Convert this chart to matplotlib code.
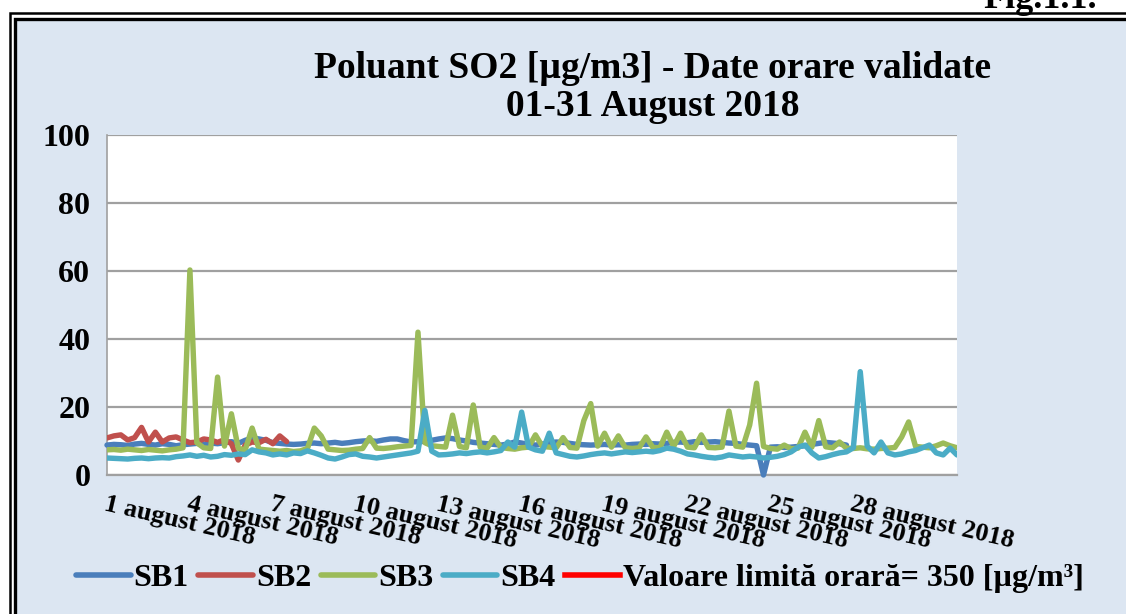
import numpy as np
import matplotlib
matplotlib.use("Agg")
import matplotlib.pyplot as plt
from matplotlib.patches import Rectangle

# ---------------- data (6-hour resolution, 1-31 August 2018) ----------------
step_days = 0.25

sb1 = [8.8, 9.0, 8.9, 8.7, 9.1, 9.3, 9.0, 8.8, 9.2, 9.0, 8.6, 8.9, 9.1, 9.3, 9.0, 9.4,
       9.2, 9.5, 9.8, 9.3, 10.2, 10.9, 10.6, 10.2, 9.5, 9.3, 9.1, 9.0, 9.1, 9.3, 9.4, 9.2,
       9.4, 9.6, 9.3, 9.5, 9.8, 10.0, 10.1, 9.9, 10.3, 10.6, 10.6, 10.1, 9.7, 9.8, 9.9, 10.2,
       10.6, 10.9, 10.7, 10.3, 10.0, 9.6, 9.4, 9.2, 9.0, 8.8, 9.1, 9.7, 9.4, 9.0, 8.8, 9.1,
       9.5, 9.7, 9.6, 9.3, 9.0, 8.9, 8.8, 8.9, 9.0, 8.8, 8.9, 8.8, 9.0, 9.1, 9.0, 9.2,
       9.1, 9.3, 9.6, 9.7, 9.5, 9.8, 9.6, 9.7, 9.8, 9.6, 9.4, 9.3, 9.0, 8.8, 8.6, 0.0,
       8.2, 8.3, 8.1, 8.2, 8.4, 8.6, 9.0, 9.3, 9.6, 9.4, 9.2, 8.8]

sb2 = [10.9, 11.5, 11.8, 10.3, 11.0, 14.0, 9.7, 12.6, 9.7, 10.9, 11.2, 10.3, 9.5, 9.7,
       10.6, 10.3, 9.6, 10.4, 9.2, 4.4, 8.8, 9.7, 9.5, 10.5, 9.2, 11.5, 9.8]

sb3 = [7.4, 7.5, 7.3, 7.6, 7.4, 7.2, 7.5, 7.3, 7.1, 7.4, 7.6, 8.0, 60.3, 9.5, 8.0, 7.8,
       28.8, 8.5, 18.0, 7.8, 7.4, 13.8, 7.6, 7.4, 7.2, 7.0, 7.2, 6.9, 7.1, 7.8, 13.8, 11.5,
       7.6, 7.4, 7.2, 7.3, 7.6, 7.8, 11.0, 7.9, 7.8, 8.0, 8.3, 8.5, 8.7, 42.0, 9.5, 8.6,
       8.4, 8.2, 17.6, 8.4, 8.0, 20.6, 8.2, 7.9, 11.0, 8.1, 7.8, 7.6, 8.0, 8.2, 11.8, 8.4,
       8.2, 8.0, 11.0, 8.1, 7.9, 16.0, 21.0, 8.5, 12.3, 8.2, 11.5, 8.0, 7.8, 8.0, 11.2, 8.1,
       8.0, 12.6, 8.4, 12.3, 8.2, 8.0, 11.8, 8.1, 8.0, 8.2, 18.8, 8.5, 8.2, 14.7, 27.0, 8.4,
       7.8, 7.6, 8.8, 7.7, 7.9, 12.6, 8.2, 16.0, 8.3, 8.0, 9.7, 7.9, 7.8, 8.0, 7.7, 7.6,
       7.8, 7.9, 8.1, 11.2, 15.6, 8.4, 8.2, 8.0, 8.6, 9.4, 8.6, 8.0]

sb4 = [5.0, 4.9, 4.8, 4.7, 4.9, 5.0, 4.8, 5.0, 5.1, 5.0, 5.4, 5.6, 5.9, 5.5, 5.8, 5.3,
       5.5, 6.0, 5.8, 6.2, 6.0, 7.4, 6.8, 6.5, 5.9, 6.2, 5.9, 6.5, 6.3, 7.1, 6.5, 5.8,
       5.0, 4.7, 5.3, 6.0, 6.2, 5.5, 5.3, 5.0, 5.3, 5.6, 5.9, 6.2, 6.5, 7.0, 19.0, 7.0,
       5.9, 6.0, 6.2, 6.5, 6.3, 6.6, 6.8, 6.5, 6.8, 7.2, 9.7, 8.2, 18.5, 8.2, 7.4, 7.0,
       12.3, 6.5, 6.0, 5.5, 5.3, 5.6, 6.0, 6.3, 6.5, 6.2, 6.5, 6.8, 6.6, 6.8, 7.0, 6.8,
       7.2, 7.9, 7.6, 7.0, 6.2, 5.9, 5.5, 5.2, 5.0, 5.3, 5.9, 5.6, 5.3, 5.5, 5.3, 5.0,
       5.2, 5.5, 6.0, 6.8, 8.2, 8.8, 6.5, 5.0, 5.4, 6.0, 6.5, 6.8, 8.0, 30.4, 8.5, 6.5,
       9.7, 6.5, 5.9, 6.2, 6.8, 7.2, 8.0, 8.8, 6.5, 5.9, 7.9, 5.9]

limit_value = 350

series_names = ["SB1", "SB2", "SB3", "SB4", "Valoare limită orară= 350 [µg/m³]"]
series_colors = ["#4A7EBB", "#C0504D", "#9BBB59", "#4BACC6", "#FF0000"]

tick_days = [0, 3, 6, 9, 12, 15, 18, 21, 24, 27]
tick_labels = ["1 august 2018", "4 august 2018", "7 august 2018", "10 august 2018",
               "13 august 2018", "16 august 2018", "19 august 2018", "22 august 2018",
               "25 august 2018", "28 august 2018"]
y_ticks = [0, 20, 40, 60, 80, 100]

title_line1 = "Poluant SO2 [µg/m3] - Date orare validate"
title_line2 = "01-31 August 2018"
fig_label = "Fig.1.1."

# ---------------- figure ----------------
W, H = 1126, 614
fig = plt.figure(figsize=(W / 100, H / 100), dpi=100, facecolor="white")
serif = ["Liberation Serif", "DejaVu Serif"]

# double frame (behind everything)
fig.patches.append(Rectangle((15 / W, -0.1), 1.2, 1 - 19 / H + 0.1, transform=fig.transFigure,
                             facecolor="#DCE6F2", edgecolor="black", linewidth=2.4, zorder=-2))
fig.patches.append(Rectangle((9.5 / W, -0.1), 1.2, 1 - 13 / H + 0.1, transform=fig.transFigure,
                             facecolor="none", edgecolor="black", linewidth=1.8, zorder=-2))

fig.text(1097 / W, 1 - 8 / H, fig_label, ha="right", va="baseline", fontsize=26,
         fontweight="bold", family=serif)

fig.text(653 / W, 1 - 68 / H, title_line1, ha="center", va="center", fontsize=27,
         fontweight="bold", family=serif)
fig.text(653 / W, 1 - 107 / H, title_line2, ha="center", va="center", fontsize=27,
         fontweight="bold", family=serif)

ax = fig.add_axes([107 / W, 1 - 475 / H, (957 - 107) / W, (475 - 135) / H])
ax.set_facecolor("white")

def times(n):
    return np.arange(n) * step_days

lw = 3.9
ax.plot(times(len(sb1)), sb1, color=series_colors[0], lw=lw, solid_joinstyle="round",
        solid_capstyle="round", label=series_names[0], zorder=3, clip_on=False)
ax.plot(times(len(sb2)), sb2, color=series_colors[1], lw=lw, solid_joinstyle="round",
        solid_capstyle="round", label=series_names[1], zorder=4)
ax.plot(times(len(sb3)), sb3, color=series_colors[2], lw=lw, solid_joinstyle="round",
        solid_capstyle="round", label=series_names[2], zorder=5)
ax.plot(times(len(sb4)), sb4, color=series_colors[3], lw=lw, solid_joinstyle="round",
        solid_capstyle="round", label=series_names[3], zorder=6)
tt = times(len(sb3))
ax.plot(tt, [limit_value] * len(tt), color=series_colors[4], lw=lw,
        label=series_names[4], zorder=7)

ax.set_xlim(0, tt[-1])
ax.set_ylim(0, 100)
ax.set_yticks(y_ticks)
ax.set_yticklabels([str(v) for v in y_ticks], fontsize=23, fontweight="bold", family=serif)
ax.yaxis.grid(True, color="#A0A0A0", lw=1.6, zorder=1)
ax.set_axisbelow(True)
ax.tick_params(axis="y", length=0, pad=12)
ax.set_xticks(tick_days)
ax.set_xticklabels(tick_labels, fontsize=19, fontweight="bold", family=serif,
                   rotation=-13, ha="left", va="top", rotation_mode="anchor")
ax.tick_params(axis="x", length=0, pad=13)
for s in ["top", "right"]:
    ax.spines[s].set_visible(False)
ax.spines["left"].set_color("#A0A0A0")
ax.spines["left"].set_linewidth(1.2)
ax.spines["bottom"].set_color("#A0A0A0")
ax.spines["bottom"].set_linewidth(1.6)

leg = fig.legend(loc="center", bbox_to_anchor=(580 / W, 1 - 578 / H), ncol=5, frameon=False,
                 prop={"family": serif, "weight": "bold", "size": 23},
                 handlelength=1.7, handletextpad=0.1, columnspacing=0.3, borderaxespad=0)
for line in leg.get_lines():
    line.set_linewidth(4)

fig.savefig("out.png", dpi=100, facecolor="white")
